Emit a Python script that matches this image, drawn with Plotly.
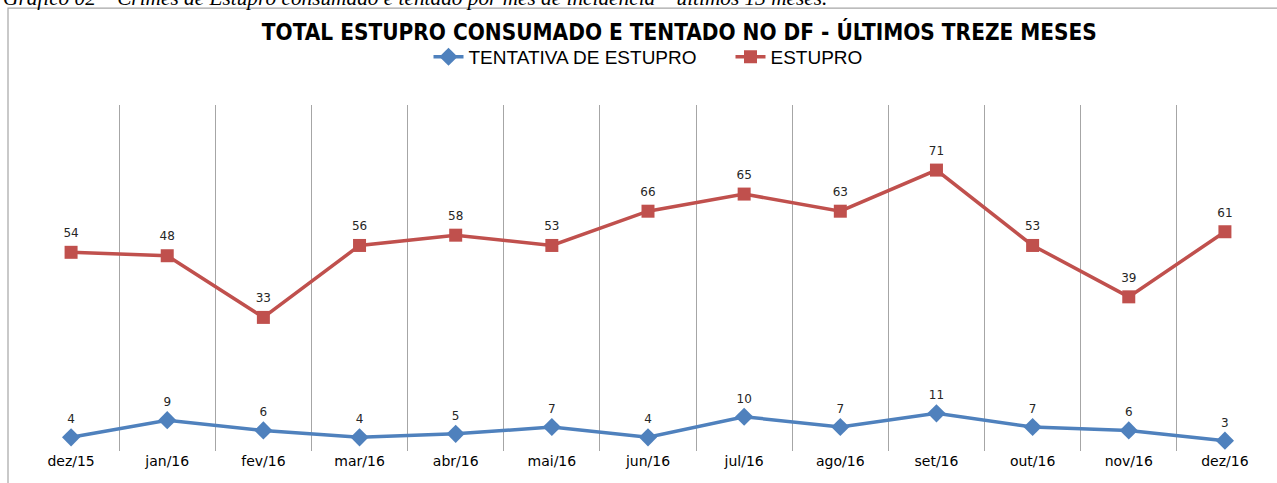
import plotly.graph_objects as go

# months shown on the x axis
meses = ["dez/15", "jan/16", "fev/16", "mar/16", "abr/16", "mai/16", "jun/16",
         "jul/16", "ago/16", "set/16", "out/16", "nov/16", "dez/16"]
# monthly counts (the chart stacks ESTUPRO on top of TENTATIVA)
tentativa = [4, 9, 6, 4, 5, 7, 4, 10, 7, 11, 7, 6, 3]
estupro = [54, 48, 33, 56, 58, 53, 66, 65, 63, 71, 53, 39, 61]

font_title = "Liberation Sans Narrow, DejaVu Sans Condensed, Arial Narrow, sans-serif"
font_legend = "Liberation Sans, Arial, sans-serif"
x_pos = list(range(len(meses)))

# name, values, colour, marker, marker size, spacer size for the label
series = [
    ("TENTATIVA DE ESTUPRO", tentativa, "#4F81BD", "diamond", 14, 16),
    ("ESTUPRO", estupro, "#C0504D", "square", 13, 18),
]

fig = go.Figure()

# the lines and markers
for name, vals, color, symbol, size, _ in series:
    fig.add_trace(
        go.Scatter(
            x=x_pos,
            y=vals,
            name=name,
            stackgroup="total",
            fill="none",
            mode="lines+markers",
            line=dict(color=color, width=3.5),
            marker=dict(symbol=symbol, size=size, color=color),
        )
    )

# data labels, stacked the same way, pushed up by an invisible marker
for name, vals, color, symbol, size, pad in series:
    fig.add_trace(
        go.Scatter(
            x=x_pos,
            y=vals,
            stackgroup="labels",
            fill="none",
            mode="markers+text",
            marker=dict(size=pad, opacity=0),
            text=[str(v) for v in vals],
            textposition="top center",
            textfont=dict(size=12, color="#262626", family="DejaVu Sans"),
            showlegend=False,
            hoverinfo="skip",
        )
    )

# outer chart frame (partly cut off by the page, like the source image)
fig.add_shape(type="rect", xref="paper", yref="paper",
              x0=-0.012, x1=1.02, y0=-0.3, y1=1.280,
              line=dict(color="#A6A6A6", width=1.2), layer="below")

# caption above the chart, clipped at the top of the page
fig.add_annotation(
    text="<i>Gráfico 02 – Crimes de Estupro consumado e tentado por mês de incidência – últimos 13 meses.</i>",
    xref="paper", yref="paper", x=-0.018, y=1.268,
    xanchor="left", yanchor="bottom", showarrow=False,
    font=dict(family="Liberation Serif, serif", size=21.3, color="#000000"),
)

fig.update_layout(
    title=dict(
        text="<b>TOTAL ESTUPRO CONSUMADO E TENTADO NO DF - ÚLTIMOS TREZE MESES</b>",
        x=0.532, xanchor="center", y=0.933, yanchor="middle",
        font=dict(family=font_title, size=22.4, color="#000000"),
    ),
    legend=dict(
        orientation="h", x=0.566, xanchor="center", y=1.139, yanchor="middle",
        font=dict(family=font_legend, size=19, color="#000000"),
        itemwidth=30, entrywidth=257, bgcolor="rgba(0,0,0,0)",
    ),
    xaxis=dict(
        range=[-0.5, len(meses) - 0.5],
        tickmode="array",
        tickvals=x_pos,
        ticktext=meses,
        showgrid=False,
        zeroline=False,
        showline=False,
        ticks="",
        tickfont=dict(family="DejaVu Sans", size=14, color="#000000"),
        minor=dict(tick0=-0.5, dtick=1, showgrid=True, gridcolor="#A6A6A6", gridwidth=1),
    ),
    yaxis=dict(
        range=[0, 101],
        visible=False,
        showgrid=False,
        zeroline=False,
    ),
    plot_bgcolor="white",
    paper_bgcolor="white",
    width=1277,
    height=483,
    margin=dict(l=23, r=4, t=105, b=32, autoexpand=False),
    showlegend=True,
)

# drop the browser's default page margin so the figure fills the window
fig.write_html("out.html", config={"displayModeBar": False},
               post_script="document.body.style.margin='0';")
